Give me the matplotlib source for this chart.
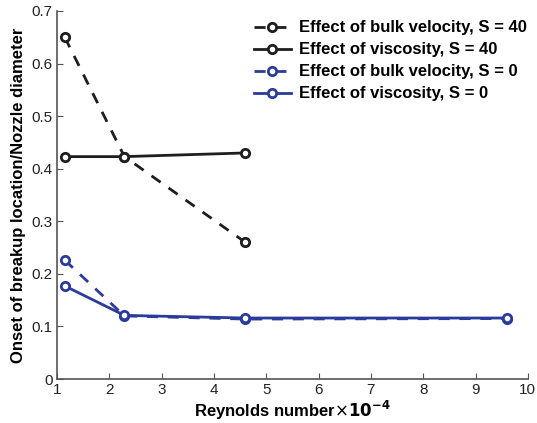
import matplotlib.pyplot as plt

# Reynolds number (x 10^-4)
re_s40 = [1.15, 2.29, 4.6]
re_s0 = [1.15, 2.29, 4.6, 9.6]

bulk_s40 = [0.65, 0.423, 0.26]
visc_s40 = [0.423, 0.423, 0.43]
bulk_s0 = [0.226, 0.12, 0.114, 0.115]
visc_s0 = [0.177, 0.121, 0.116, 0.116]

black = '#1e1e1e'
blue = '#2a3b9c'

plt.rcParams['font.family'] = ['Liberation Sans', 'DejaVu Sans']

fig = plt.figure(figsize=(5.37, 4.23), dpi=100)
ax = fig.add_axes([0.106, 0.104, 0.877, 0.87])

mk = dict(marker='o', markersize=6, markerfacecolor='white', markeredgewidth=2, linewidth=2)
ax.plot(re_s40, bulk_s40, '--', color=black, dashes=(4, 3.5), label='Effect of bulk velocity, S = 40', **mk)
ax.plot(re_s40, visc_s40, '-', color=black, label='Effect of viscosity, S = 40', **mk)
ax.plot(re_s0, bulk_s0, '--', color=blue, dashes=(4, 3.5), label='Effect of bulk velocity, S = 0', **mk)
ax.plot(re_s0, visc_s0, '-', color=blue, label='Effect of viscosity, S = 0', **mk)

ax.set_xlim(1, 10)
ax.set_ylim(0, 0.7)
ax.set_xticks(range(1, 11))
ax.set_yticks([0, 0.1, 0.2, 0.3, 0.4, 0.5, 0.6, 0.7])
ax.set_yticklabels(['0', '0.1', '0.2', '0.3', '0.4', '0.5', '0.6', '0.7'])

for s in ['top', 'right']:
    ax.spines[s].set_visible(False)
for s in ['left', 'bottom']:
    ax.spines[s].set_color('#555555')
    ax.spines[s].set_linewidth(1.2)
ax.tick_params(direction='in', length=4, colors='#555555', labelcolor='#222222', labelsize=11, pad=3)

ax.set_xlabel('Reynolds number' + r'$\times$' + r'$\mathbf{10^{-4}}$', fontsize=12, fontweight='bold', labelpad=1)
ax.set_ylabel('Onset of breakup location/Nozzle diameter', fontsize=12, fontweight='bold')

ax.legend(loc='upper right', bbox_to_anchor=(1.03, 1.015), frameon=False, handlelength=2.2,
          prop={'weight': 'bold', 'size': 12}, labelspacing=0.42, handletextpad=0.5)

fig.savefig('out.png', dpi=100)
